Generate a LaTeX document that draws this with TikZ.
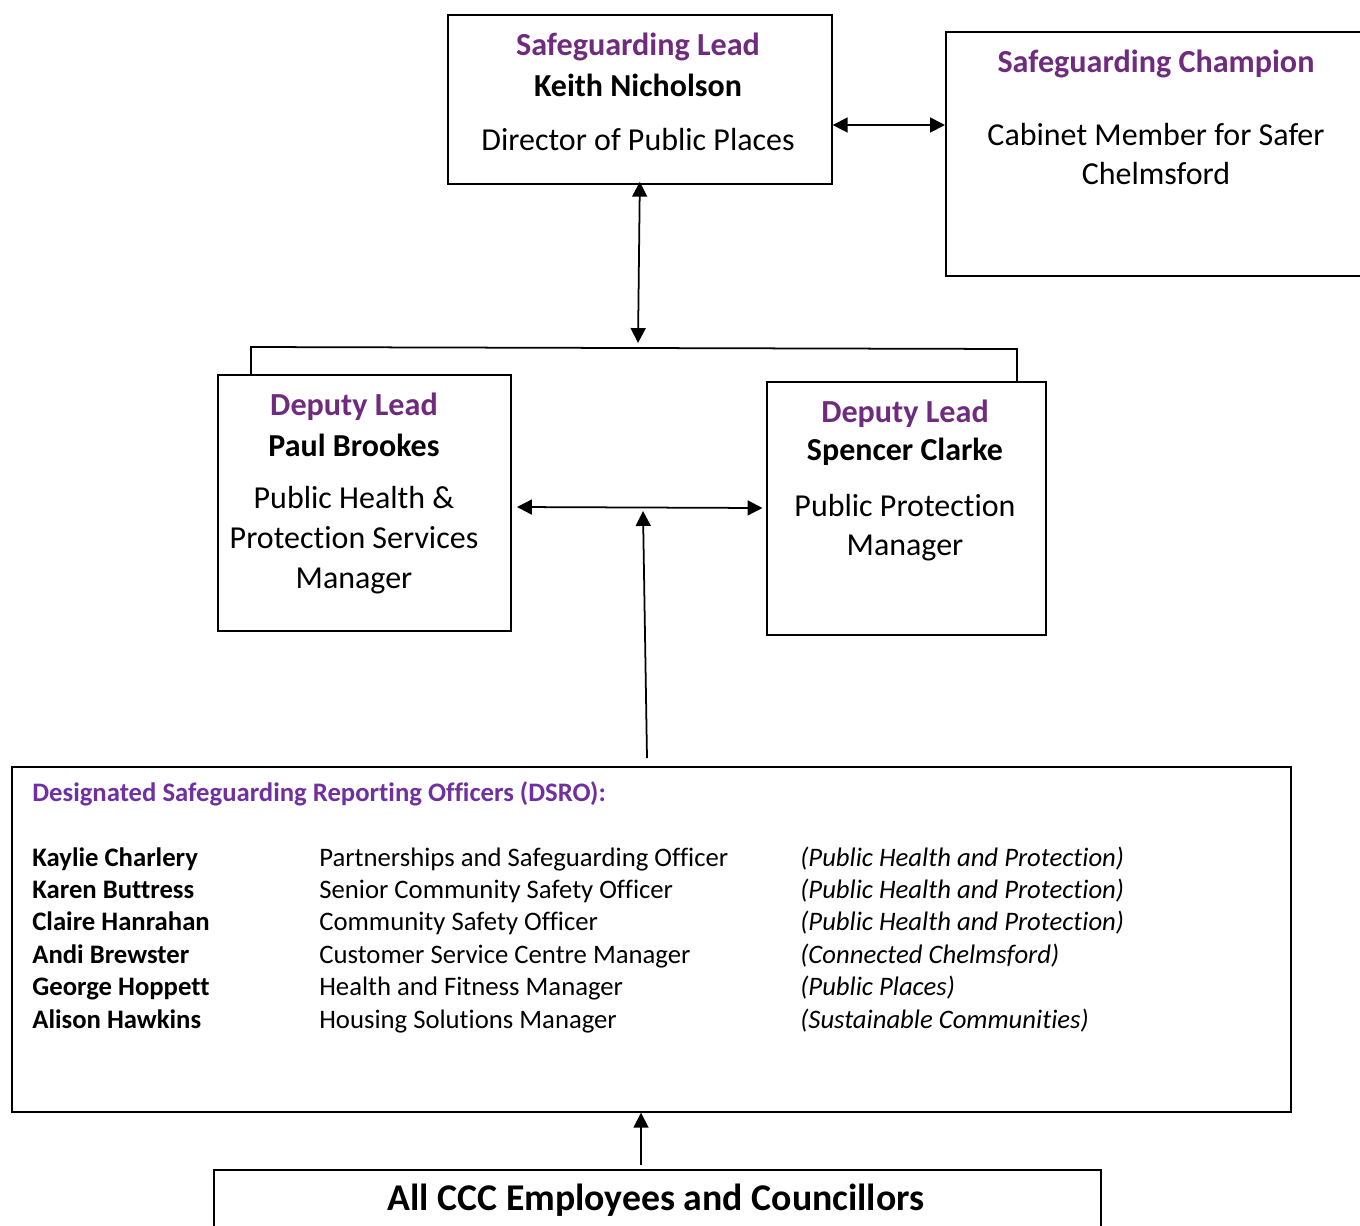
\documentclass[tikz,border=0pt]{standalone}
\usepackage{fontspec}
\setmainfont{Carlito}[Ligatures={NoCommon}]
\usetikzlibrary{arrows.meta,calc,positioning}
\definecolor{headpurple}{HTML}{6F2C7F}
\definecolor{dsropurple}{HTML}{7030A0}
\tikzset{
  box/.style={draw,line width=1pt,rectangle,anchor=north west,inner sep=0pt},
  head/.style={font=\fontsize{18.3}{21}\selectfont\bfseries,text=headpurple},
  who/.style={font=\fontsize{18.2}{21}\selectfont\bfseries},
  role/.style={font=\fontsize{18.2}{22.5}\selectfont,align=center},
  cell/.style={anchor=base west,inner sep=0pt,font=\fontsize{15.2}{17}\selectfont},
  dblarrow/.style={{Triangle[length=8.5pt,width=8.5pt]}-{Triangle[length=8.5pt,width=8.5pt]},line width=1pt},
  uparrow/.style={-{Triangle[length=8.5pt,width=8.5pt]},line width=1pt},
  link/.style={line width=1pt}
}

\begin{document}
\begin{tikzpicture}[x=0.02cm,y=-0.02cm]
\useasboundingbox (0,0) rectangle (1360,1225);

% top row
\node[box,minimum width=7.68cm,minimum height=3.38cm] (lead) at (447,14) {};
\node[head] (leadhd) at (638,47) {Safeguarding Lead};
\node[who] (leadnm) at (638,85) {Keith Nicholson};
\node[role] (leadrl) at (638,140) {Director of Public Places};

\node[box,minimum width=8.4cm,minimum height=4.88cm] (champ) at (945,31) {};
\node[head] (champhd) at (1156,64) {Safeguarding Champion};
\node[role] (champrl) at (1156,154) {Cabinet Member for Safer\\Chelmsford};

\draw[dblarrow] (lead.east |- 0,125) -- (champ.west |- 0,125);

% deputies
\node[box,minimum width=5.86cm,minimum height=5.12cm] (dl) at (217,374) {};
\node[head] (dlhd) at (354,407) {Deputy Lead};
\node[who] (dlnm) at (354,445) {Paul Brookes};
\node[role,font=\fontsize{18.2}{22.7}\selectfont] (dlrl) at (354,540) {Public Health \&\\Protection Services\\Manager};

\node[box,minimum width=5.58cm,minimum height=5.06cm] (dr) at (766,381) {};
\node[head] (drhd) at (905,414) {Deputy Lead};
\node[who] (drnm) at (905,452) {Spencer Clarke};
\node[role,font=\fontsize{18.2}{22.2}\selectfont] (drrl) at (905,528) {Public Protection\\Manager};

\coordinate (junc) at (638,343);
\coordinate (barL) at (251,347);
\coordinate (barR) at (1017,349);
\draw[dblarrow] (lead.south) ++(0,-3) -- (junc);
\draw[link] (dl.north -| barL) -- (barL) -- (barR) -- (dr.north -| barR);
\draw[dblarrow] ([xshift=3]dl.east |- 0,507) -- ([xshift=-2]dr.west |- 0,508);

% DSRO panel
\node[box,minimum width=25.58cm,minimum height=6.9cm] (dsro) at (11,766) {};
\node[cell,font=\fontsize{15.2}{17}\selectfont\bfseries,text=dsropurple] (dsrohd) at (32,801)
  {Designated Safeguarding Reporting Officers (DSRO):};
\coordinate (riser) at (647,758);
\coordinate (meet) at (643,511);
\draw[uparrow] (riser) -- (meet);

\foreach \who/\job/\dept [count=\i] in {
  Kaylie Charlery/Partnerships and Safeguarding Officer/Public Health and Protection,
  Karen Buttress/Senior Community Safety Officer/Public Health and Protection,
  Claire Hanrahan/Community Safety Officer/Public Health and Protection,
  Andi Brewster/Customer Service Centre Manager/Connected Chelmsford,
  George Hoppett/Health and Fitness Manager/Public Places,
  Alison Hawkins/Housing Solutions Manager/Sustainable Communities}{
  \node[cell,font=\fontsize{15.2}{17}\selectfont\bfseries] (nm\i) at (32,{866+(\i-1)*32.4}) {\who};
  \node[cell] (rl\i) at (319,{866+(\i-1)*32.4}) {\job};
  \node[cell,font=\fontsize{15.2}{17}\selectfont\itshape] (dp\i) at (800,{866+(\i-1)*32.4}) {(\dept)};
}

% everyone
\node[box,minimum width=17.74cm,minimum height=1.4cm] (all) at (213,1169) {};
\node[font=\fontsize{21.5}{24}\selectfont\bfseries] (alltx) at (656,1200) {All CCC Employees and Councillors};
\draw[uparrow] (all.north -| 641,0) ++(0,-4) -- (dsro.south -| 641,0);
\end{tikzpicture}
\end{document}
